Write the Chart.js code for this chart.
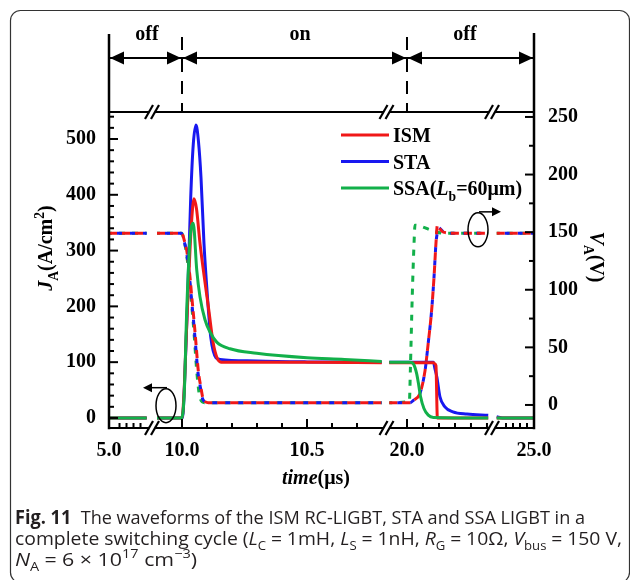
<!DOCTYPE html>
<html>
<head>
<meta charset="utf-8">
<title>ISM RC-LIGBT switching waveforms</title>
<script src="https://cdn.jsdelivr.net/npm/chart.js"></script>
<style>
  body { margin: 0; background: #fff; }
  #wrap { width: 630px; height: 580px; }
</style>
</head>
<body>
<div id="wrap"><canvas id="chart" width="630" height="580"></canvas></div>
<script>
// [time (us), J_A (A/cm2)] - left axis
const ismCurrent = [[5.0,0],[6.077,0],
  [9.9,0],[10.0,0],[10.008,44],[10.016,134],[10.027,253],[10.038,350],[10.048,393],[10.058,375],[10.072,313],
  [10.089,253],[10.107,194],[10.125,134],[10.141,107],[10.156,100],[10.5,100],[10.799,99],
  [19.889,99],[20.165,99],[20.175,97],[20.181,94],[20.19,0],[20.508,0],
  [23.934,0],[25.0,0]];
const staCurrent = [[5.0,0],[6.077,0],
  [9.9,0],[10.002,0],[10.01,60],[10.021,194],[10.035,397],[10.045,490],[10.056,525],[10.066,495],[10.076,431],
  [10.088,312],[10.101,222],[10.115,145],[10.136,108],[10.152,105],[10.3,102],[10.5,100.5],[10.799,100],
  [19.889,100],[20.165,100],[20.175,88],[20.187,73],[20.206,38],[20.237,20],[20.287,11],[20.375,7],[20.508,5],
  [23.934,2],[24.1,0],[25.0,0]];
const ssaCurrent = [[5.0,0],[6.077,0],
  [9.9,0],[9.998,0],[10.009,44],[10.019,194],[10.032,320],[10.045,349],[10.059,265],[10.072,217],[10.092,176],
  [10.112,154],[10.139,136],[10.192,124],[10.299,116],[10.5,108],[10.65,105],[10.799,101],
  [19.889,100],[20.019,100],[20.04,97],[20.06,80],[20.071,63],[20.085,38],[20.106,17],[20.133,5],[20.165,1],[20.508,0],
  [23.934,0],[25.0,0]];

// [time (us), V_A (V)] - right axis
const ismVoltage = [[5.0,149],[6.077,149],
  [9.9,149],[9.999,149],[10.009,143],[10.019,134],[10.032,111],[10.039,94],[10.049,71],[10.056,53],[10.065,30],
  [10.075,16],[10.085,5],[10.105,2],[10.799,2],
  [19.889,2],[20.019,2],[20.04,4],[20.081,10],[20.113,30],[20.133,54],[20.154,82],[20.169,111],[20.181,140],
  [20.19,156],[20.2,154],[20.227,150],[20.3,149],[20.508,149],
  [23.934,149],[25.0,149]];
const staVoltage = [[5.0,149],[6.077,149],
  [9.9,149],[9.997,149],[10.007,143],[10.017,134],[10.03,111],[10.037,94],[10.047,71],[10.054,53],[10.063,30],
  [10.073,16],[10.083,5],[10.103,2],[10.799,2],
  [19.889,2],[20.019,2],[20.04,4],[20.081,10],[20.113,30],[20.133,54],[20.154,82],[20.169,111],[20.181,140],
  [20.19,150],[20.197,154],[20.215,152],[20.24,149],[20.508,149],
  [23.934,149],[25.0,149]];
const ssaVoltage = [[5.0,149],[6.077,149],
  [9.9,149],[9.999,149],[10.009,142],[10.019,130],[10.03,108],[10.04,84],[10.049,60],[10.057,35],[10.064,18],
  [10.072,6],[10.09,2],[10.799,2],
  [19.889,2],[20.015,3],[20.021,30],[20.033,95],[20.044,140],[20.05,156],[20.165,151],[20.227,149],[20.508,149],
  [23.934,149],[25.0,149]];

// broken time axis: time range of each piece and where it sits on the axis (0..425)
const segTime = [[5.0, 6.171], [9.888, 10.808], [19.8875, 20.519], [23.857, 25.0]];
const segPos = [[0, 41], [45, 275], [280, 381], [385, 425]];

const xTickTimes = [5.0, 10.0, 10.5, 20.0, 25.0];
const xTickLabels = ['5.0', '10.0', '10.5', '20.0', '25.0'];
const xMajorMarks = [10.0, 10.5, 20.0];
const xMinorMarks = [5.3, 5.5, 5.7, 5.9, 10.1, 10.2, 10.3, 10.4, 10.6, 10.7, 20.1, 20.2, 20.3, 20.4, 20.5, 24.2, 24.4, 24.6, 24.8];
const jTicks = [0, 100, 200, 300, 400, 500];
const jMinor = [20, 40, 60, 80, 120, 140, 160, 180, 220, 240, 260, 280, 320, 340, 360, 380, 420, 440, 460, 480, 520, 540];
const vTicks = [0, 50, 100, 150, 200, 250];
const vMinor = [25, 75, 125, 175, 225];

const phaseBounds = [5.0, 10.0, 20.0, 25.0];
const phaseLabels = ['off', 'on', 'off'];
const phaseLabelTimes = [6.086, 10.472, 20.3625];

const RED = '#f01818', BLUE = '#1818f0', GREEN = '#12b04a';
const SERIF = '"Liberation Serif", "Times New Roman", serif';

function segOf(t) {
  for (let i = 0; i < segTime.length; i++) {
    if (t >= segTime[i][0] - 1e-9 && t <= segTime[i][1] + 1e-9) return i;
  }
  return -1;
}
function toV(t) {
  const i = segOf(t);
  const [t0, t1] = segTime[i], [p0, p1] = segPos[i];
  return p0 + (t - t0) * (p1 - p0) / (t1 - t0);
}
function build(series) {
  const out = [];
  series.forEach(([t, y], i) => {
    if (i > 0 && segOf(t) !== segOf(series[i - 1][0])) {
      out.push({ x: (toV(series[i - 1][0]) + toV(t)) / 2, y: null });
    }
    out.push({ x: toV(t), y: y });
  });
  return out;
}

function line(ctx, x1, y1, x2, y2) {
  ctx.beginPath(); ctx.moveTo(x1, y1); ctx.lineTo(x2, y2); ctx.stroke();
}
function head(ctx, tip, y, dir, len, half) {
  ctx.beginPath();
  ctx.moveTo(tip, y);
  ctx.lineTo(tip - dir * len, y - half);
  ctx.lineTo(tip - dir * len, y + half);
  ctx.closePath(); ctx.fill();
}
function slash(ctx, x, y) {
  line(ctx, x - 4, y + 7, x + 4, y - 7);
}
// text with italic / sub / sup pieces
function runs(ctx, parts, x, y, size, family, align, dry) {
  const fontOf = p => {
    const s = (p.sub || p.sup) ? size * 0.68 : size;
    return (p.i ? 'italic ' : '') + (p.b ? 'bold ' : '') + s.toFixed(1) + 'px ' + family;
  };
  let w = 0;
  parts.forEach(p => { ctx.font = fontOf(p); w += ctx.measureText(p.t).width; });
  if (dry) return w;
  let cx = align === 'center' ? x - w / 2 : x;
  ctx.textAlign = 'left'; ctx.textBaseline = 'alphabetic';
  parts.forEach(p => {
    ctx.font = fontOf(p);
    const dy = p.sub ? size * 0.28 : p.sup ? -size * 0.4 : 0;
    ctx.fillText(p.t, cx, y + dy);
    cx += ctx.measureText(p.t).width;
  });
  return w;
}

const figure = {
  id: 'figure',
  afterDraw(chart) {
    const ctx = chart.ctx;
    const xs = chart.scales.x, yj = chart.scales.yJ, yv = chart.scales.yV;
    const { left, right, top, bottom } = chart.chartArea;
    const px = t => xs.getPixelForValue(toV(t));
    ctx.save();
    ctx.strokeStyle = '#000'; ctx.fillStyle = '#000';

    // frame with axis breaks
    ctx.lineWidth = 2.5;
    line(ctx, left, bottom + 1.2, left, top - 78);
    line(ctx, right, bottom + 1.2, right, top - 79);
    const br = [];
    for (let i = 0; i < segPos.length - 1; i++) br.push(xs.getPixelForValue((segPos[i][1] + segPos[i + 1][0]) / 2));
    ctx.lineWidth = 2.2;
    [top, bottom].forEach(yy => {
      let a = left;
      br.forEach(b => { line(ctx, a, yy, b - 3, yy); a = b + 3; });
      line(ctx, a, yy, right, yy);
      br.forEach(b => { slash(ctx, b - 3, yy); slash(ctx, b + 3, yy); });
    });

    // inward ticks
    ctx.lineWidth = 2;
    jTicks.forEach(v => { const y = yj.getPixelForValue(v); line(ctx, left, y, left + 9, y); });
    jMinor.forEach(v => { const y = yj.getPixelForValue(v); line(ctx, left, y, left + 5, y); });
    vTicks.forEach(v => { const y = yv.getPixelForValue(v); line(ctx, right, y, right - 9, y); });
    vMinor.forEach(v => { const y = yv.getPixelForValue(v); line(ctx, right, y, right - 5, y); });
    xMajorMarks.forEach(t => { const x = px(t); line(ctx, x, bottom, x, bottom - 9); });
    xMinorMarks.forEach(t => { const x = px(t); line(ctx, x, bottom, x, bottom - 5); });

    // switching phases above the plot
    const ay = top - 54;
    const bx = phaseBounds.map(px);
    ctx.lineWidth = 2;
    ctx.setLineDash([13, 9]);
    line(ctx, bx[1], top - 75, bx[1], top);
    line(ctx, bx[2], top - 75, bx[2], top);
    ctx.setLineDash([]);
    for (let i = 0; i < bx.length - 1; i++) {
      line(ctx, bx[i], ay, bx[i + 1], ay);
      head(ctx, bx[i] + 1, ay, -1, 14, 6.5);
      head(ctx, bx[i + 1] - 1, ay, 1, 14, 6.5);
    }
    ctx.font = 'bold 20px ' + SERIF;
    ctx.textAlign = 'center'; ctx.textBaseline = 'middle';
    phaseLabels.forEach((s, i) => ctx.fillText(s, px(phaseLabelTimes[i]), top - 77));

    // axis-pointer curls
    ctx.lineWidth = 1.5;
    const curls = [[px(9.936), yj.getPixelForValue(22), -1], [px(20.444), yv.getPixelForValue(152), 1]];
    curls.forEach(([cx, cy, dir]) => {
      ctx.beginPath(); ctx.ellipse(cx, cy, 10, 17, 0, 0, Math.PI * 2); ctx.stroke();
      const ty = cy - 18;
      line(ctx, cx + 1, ty, cx + dir * 18, ty);
      head(ctx, cx + dir * 23, ty, dir, 9, 4.5);
    });

    // legend
    const legend = [
      [RED, [{ t: 'ISM', b: true }]],
      [BLUE, [{ t: 'STA', b: true }]],
      [GREEN, [{ t: 'SSA(', b: true }, { t: 'L', b: true, i: true }, { t: 'b', b: true, sub: true }, { t: '=60\u03bcm)', b: true }]]
    ];
    legend.forEach(([c, parts], k) => {
      const y = top + 23 + k * 26.5;
      ctx.strokeStyle = c; ctx.lineWidth = 3;
      line(ctx, right - 193, y, right - 145, y);
      ctx.fillStyle = '#000';
      runs(ctx, parts, right - 141, y + 7, 20, SERIF, 'left');
    });

    // axis titles
    ctx.fillStyle = '#000';
    ctx.save();
    ctx.translate(left - 64, 248); ctx.rotate(-Math.PI / 2);
    runs(ctx, [{ t: 'J', b: true, i: true }, { t: 'A', b: true, sub: true }, { t: '(A/cm', b: true }, { t: '2', b: true, sup: true }, { t: ')', b: true }], 0, 7, 20, SERIF, 'center');
    ctx.restore();
    ctx.save();
    ctx.translate(right + 63, 257); ctx.rotate(Math.PI / 2);
    runs(ctx, [{ t: 'V', b: true, i: true }, { t: 'A', b: true, sub: true }, { t: '(V)', b: true }], 0, 7, 20, SERIF, 'center');
    ctx.restore();
    runs(ctx, [{ t: 'time', b: true, i: true }, { t: '(\u03bcs)', b: true }], 316, 484, 20, SERIF, 'center');

    // caption
    const SANS = '"Open Sans", "Noto Sans", sans-serif';
    const Q = '\u2005';
    const cap = [
      [{ t: 'Fig. 11', b: true }, { t: '  The waveforms of the ISM RC-LIGBT, STA and SSA LIGBT in a' }],
      [{ t: 'complete switching cycle (' }, { t: 'L', i: true }, { t: 'C', sub: true }, { t: Q + '=' + Q + '1mH, ' },
       { t: 'L', i: true }, { t: 'S', sub: true }, { t: Q + '=' + Q + '1nH, ' }, { t: 'R', i: true }, { t: 'G', sub: true },
       { t: Q + '=' + Q + '10\u03a9, ' }, { t: 'V', i: true }, { t: 'bus', sub: true }, { t: Q + '=' + Q + '150 V,' }],
      [{ t: 'N', i: true }, { t: 'A', sub: true }, { t: Q + '=' + Q + '6 \u00d7 10' }, { t: '17', sup: true },
       { t: ' cm' }, { t: '\u22123', sup: true }, { t: ')' }]
    ];
    const capWidth = [570, 607, 182];
    ctx.fillStyle = '#231f20';
    [524, 545, 566].forEach((by, k) => {
      const sx = capWidth[k] / runs(ctx, cap[k], 0, 0, 19, SANS, 'left', true);
      ctx.save();
      ctx.translate(15, by); ctx.scale(sx, 1);
      runs(ctx, cap[k], 0, 0, 19, SANS, 'left');
      ctx.restore();
    });

    // figure box
    ctx.strokeStyle = '#333'; ctx.lineWidth = 1.2;
    ctx.beginPath();
    ctx.roundRect(10.5, 10.5, 619, 572, 10);
    ctx.stroke();
    ctx.restore();
  }
};

const tickFont = { family: SERIF, size: 20, weight: 'bold' };
const series = (label, pts, axis, color, dash, offset) => ({
  label, data: build(pts), yAxisID: axis, borderColor: color, backgroundColor: color,
  borderWidth: 3, borderDash: dash || [], borderDashOffset: offset || 0,
  pointRadius: 0, fill: false, spanGaps: false, cubicInterpolationMode: 'monotone'
});

new Chart(document.getElementById('chart').getContext('2d'), {
  type: 'line',
  data: {
    datasets: [
      series('SSA current', ssaCurrent, 'yJ', GREEN),
      series('ISM current', ismCurrent, 'yJ', RED),
      series('STA current', staCurrent, 'yJ', BLUE),
      series('ISM voltage', ismVoltage, 'yV', RED, [8, 5], 0),
      series('STA voltage', staVoltage, 'yV', BLUE, [5, 8], 5),
      series('SSA voltage', ssaVoltage, 'yV', GREEN, [6, 7], 3)
    ]
  },
  options: {
    responsive: false,
    animation: false,
    devicePixelRatio: 1,
    layout: { padding: { top: 112, left: 0, right: 0, bottom: 0 } },
    plugins: { legend: { display: false }, tooltip: { enabled: false } },
    scales: {
      x: {
        type: 'linear', min: 0, max: 425,
        grid: { display: false }, border: { display: false },
        afterBuildTicks: s => { s.ticks = xTickTimes.map(t => ({ value: toV(t) })); },
        afterFit: s => { s.height = 152; },
        ticks: { autoSkip: false, maxRotation: 0, padding: 3, color: '#000', font: tickFont,
                 callback: (v, i) => xTickLabels[i] }
      },
      yJ: {
        position: 'left', min: -18, max: 548.4,
        grid: { display: false }, border: { display: false },
        afterBuildTicks: s => { s.ticks = jTicks.map(v => ({ value: v })); },
        afterFit: s => { s.width = 109; },
        ticks: { padding: 5, color: '#000', font: tickFont }
      },
      yV: {
        position: 'right', min: -20, max: 254.3,
        grid: { display: false }, border: { display: false },
        afterBuildTicks: s => { s.ticks = vTicks.map(v => ({ value: v })); },
        afterFit: s => { s.width = 96; },
        ticks: { padding: 6, color: '#000', font: tickFont }
      }
    }
  },
  plugins: [figure]
});
</script>
</body>
</html>
